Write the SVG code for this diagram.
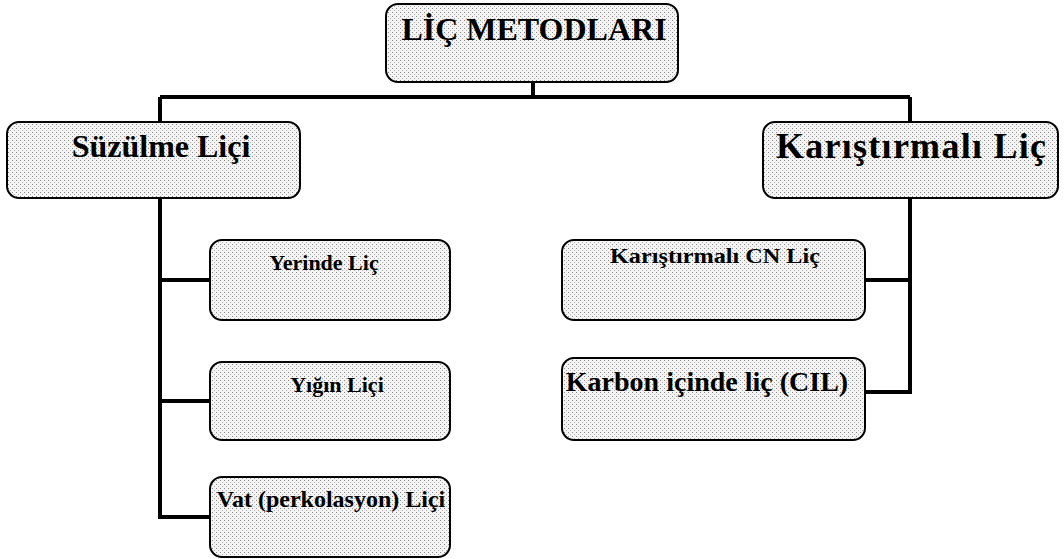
<svg xmlns="http://www.w3.org/2000/svg" width="1064" height="559" viewBox="0 0 1064 559">
<defs>
<pattern id="dots" width="4" height="4" patternUnits="userSpaceOnUse">
<rect width="4" height="4" fill="#f4f4f4"/>
<rect x="0" y="0" width="1" height="1" fill="#8a8a8a"/>
<rect x="2" y="2" width="1" height="1" fill="#b0b0b0"/>
</pattern>
</defs>
<style>
.box{fill:url(#dots);stroke:#000;stroke-width:2}
.t{font-family:"Liberation Serif","Times New Roman",serif;font-weight:bold;fill:#000;text-anchor:middle}
.c{fill:none;stroke:#000;stroke-width:4;stroke-linejoin:miter}
</style>
<rect width="1064" height="559" fill="#fff"/>
<g id="connectors">
<path class="c" d="M533 82 V97"/>
<path class="c" d="M160 97 H910"/>
<path class="c" d="M160 97 V517 H210"/>
<path class="c" d="M160 280 H210"/>
<path class="c" d="M160 401 H210"/>
<path class="c" d="M910 97 V392 H865"/>
<path class="c" d="M910 280 H865"/>
</g>
<g id="n-root"><rect class="box" x="386" y="4" width="292" height="78" rx="12"/><text class="t" x="534" y="40" font-size="32">LİÇ METODLARI</text></g>
<g id="n-suzulme"><rect class="box" x="7" y="122" width="293" height="76" rx="12"/><text class="t" x="161" y="157" font-size="32">Süzülme Liçi</text></g>
<g id="n-karistirmali"><rect class="box" x="763" y="122" width="295" height="76" rx="12"/><text class="t" x="911" y="158" font-size="36" textLength="270" lengthAdjust="spacing">Karıştırmalı Liç</text></g>
<g id="n-yerinde"><rect class="box" x="210" y="240" width="240" height="80" rx="12"/><text class="t" x="324" y="270" font-size="22">Yerinde Liç</text></g>
<g id="n-yigin"><rect class="box" x="210" y="362" width="240" height="78" rx="12"/><text class="t" x="337" y="392" font-size="22">Yığın Liçi</text></g>
<g id="n-vat"><rect class="box" x="210" y="477" width="240" height="80" rx="12"/><text class="t" x="331" y="507" font-size="24">Vat (perkolasyon) Liçi</text></g>
<g id="n-cn"><rect class="box" x="562" y="240" width="303" height="80" rx="12"/><text class="t" x="715" y="263" font-size="22" textLength="210" lengthAdjust="spacingAndGlyphs">Karıştırmalı CN Liç</text></g>
<g id="n-karbon"><rect class="box" x="562" y="358" width="303" height="82" rx="12"/><text class="t" x="707" y="391" font-size="28">Karbon içinde liç (CIL)</text></g>
</svg>
